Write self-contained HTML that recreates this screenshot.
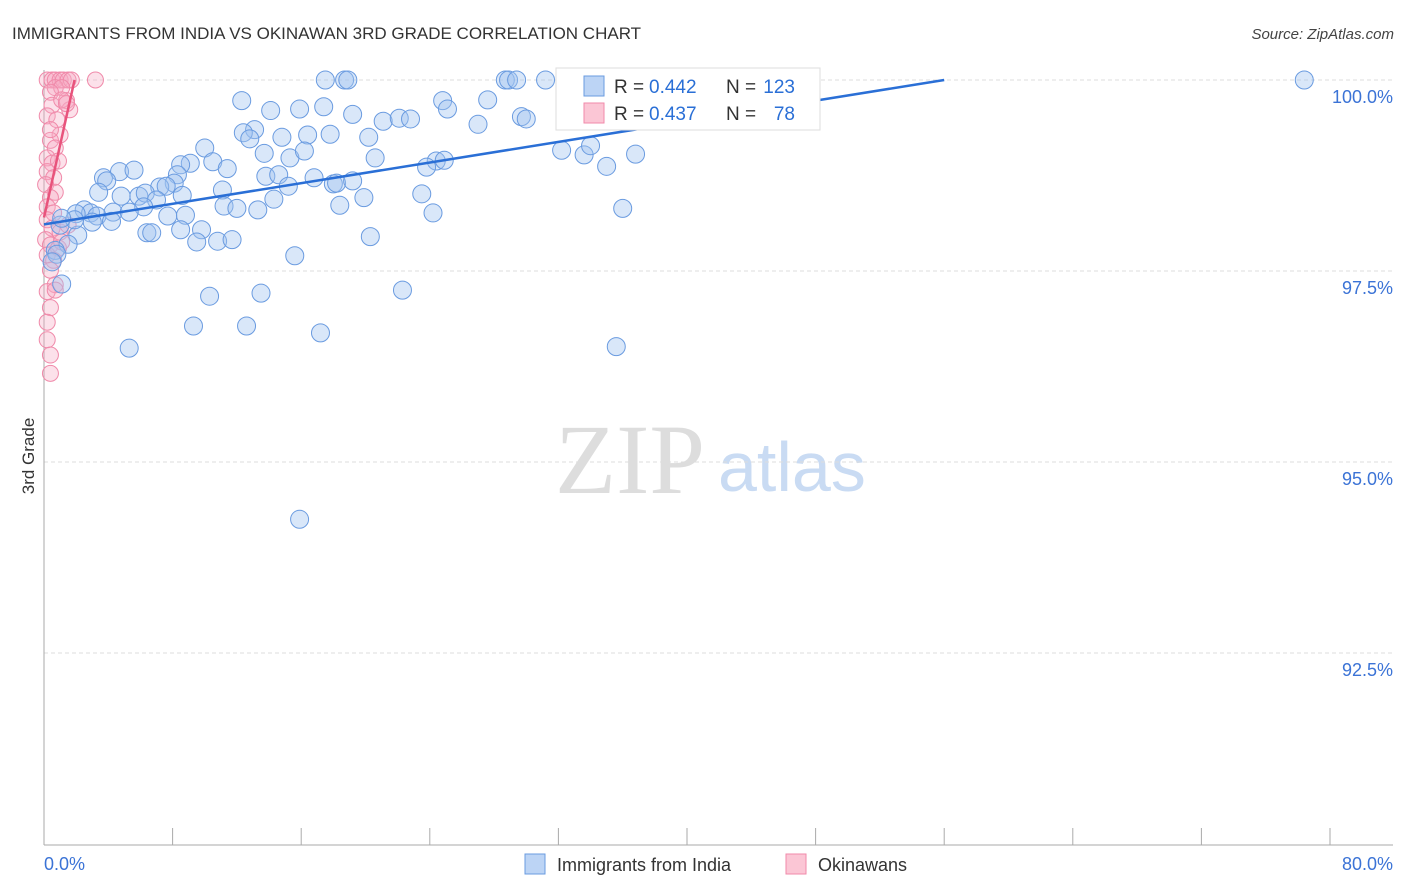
<!DOCTYPE html>
<html><head><meta charset="utf-8"><style>
body{margin:0;background:#fff;font-family:"Liberation Sans",sans-serif}
#c{position:relative;width:1406px;height:892px;overflow:hidden}
</style></head><body>
<div id="c">
<svg id="s" width="1406" height="892">
<text x="12" y="39" font-size="17" fill="#333">IMMIGRANTS FROM INDIA VS OKINAWAN 3RD GRADE CORRELATION CHART</text>
<text x="1394" y="39" font-size="15" fill="#444" font-style="italic" text-anchor="end">Source: ZipAtlas.com</text>
<text transform="translate(34,456) rotate(-90)" font-size="17" fill="#333" text-anchor="middle">3rd Grade</text>
<text x="555" y="493" font-size="100" fill="#ddd" font-family="Liberation Serif,serif">ZIP</text>
<text x="718" y="491" font-size="70" fill="#c9dbf3">atlas</text>
<g id="grid"></g><g id="axes"></g><g id="pts"></g><g id="trend"></g>
<g>
<rect x="556" y="68" width="264" height="62" fill="#fff" stroke="#ddd"/>
<rect x="584" y="76" width="20" height="20" fill="#bcd4f5" stroke="#6a9be0"/>
<rect x="584" y="103" width="20" height="20" fill="#fbc6d5" stroke="#f08aaa"/>
<text x="614" y="93" font-size="19" fill="#333">R =</text>
<text x="649" y="93" font-size="19" fill="#2a6fd6">0.442</text>
<text x="726" y="93" font-size="19" fill="#333">N =</text>
<text x="795" y="93" font-size="19" fill="#2a6fd6" text-anchor="end">123</text>
<text x="614" y="120" font-size="19" fill="#333">R =</text>
<text x="649" y="120" font-size="19" fill="#2a6fd6">0.437</text>
<text x="726" y="120" font-size="19" fill="#333">N =</text>
<text x="795" y="120" font-size="19" fill="#2a6fd6" text-anchor="end">78</text>
</g>
<g>
<rect x="525" y="854" width="20" height="20" fill="#bcd4f5" stroke="#6a9be0"/>
<text x="557" y="871" font-size="18" fill="#333">Immigrants from India</text>
<rect x="786" y="854" width="20" height="20" fill="#fbc6d5" stroke="#f08aaa"/>
<text x="818" y="871" font-size="18" fill="#333">Okinawans</text>
</g>
</svg></div>
<script>
const yTicks=[100,97.5,95,92.5];
const yTickLabels=["100.0%","97.5%","95.0%","92.5%"];
const xEnds=["0.0%","80.0%"];
const blueX=[17.5,18.7,18.9,28.7,28.9,29.4,31.2,78.4,12.3,14.1,15.9,17.4,19.2,21.1,22.1,22.8,24.8,25.1,27.6,29.7,30.0,27.0,13.1,12.4,12.8,14.8,16.4,17.8,20.2,10.0,13.7,15.3,16.2,20.6,24.4,24.9,23.8,32.2,33.6,34.0,36.8,35.0,9.1,10.5,8.5,11.4,4.7,5.6,3.7,3.9,8.3,8.1,7.2,7.6,13.8,14.6,16.8,15.2,18.0,18.2,19.2,11.1,3.4,4.8,5.9,6.3,8.6,7.0,6.2,11.2,12.0,13.3,14.3,18.4,19.9,23.5,24.2,36.0,2.5,2.9,3.3,2.0,4.3,5.3,4.2,3.0,7.7,8.8,2.1,6.4,6.7,9.8,9.5,10.8,11.7,20.3,1.5,0.7,0.8,15.6,10.3,13.5,22.3,9.3,12.6,17.2,5.3,35.6,15.9,1.1,0.5,1.0,1.9,1.1,36.5,8.5];
const blueY=[100,100,100,100,100,100,100,100,99.73,99.6,99.62,99.65,99.55,99.46,99.5,99.49,99.73,99.62,99.74,99.52,99.49,99.42,99.35,99.31,99.23,99.25,99.28,99.29,99.25,99.11,99.04,98.98,99.07,98.98,98.94,98.95,98.86,99.08,99.02,99.14,99.03,98.87,98.91,98.93,98.89,98.84,98.8,98.82,98.72,98.68,98.76,98.65,98.6,98.61,98.74,98.76,98.72,98.61,98.64,98.65,98.68,98.56,98.53,98.48,98.48,98.52,98.49,98.43,98.34,98.35,98.32,98.3,98.44,98.36,98.46,98.51,98.26,98.32,98.3,98.26,98.22,98.25,98.27,98.27,98.15,98.14,98.22,98.23,97.97,98.0,98.0,98.04,97.88,97.89,97.91,97.95,97.85,97.77,97.72,97.7,97.17,97.21,97.25,96.78,96.78,96.69,96.49,96.51,94.25,97.33,97.62,98.1,98.17,98.19,99.78,98.04];
const pinkX=[.2,.5,.7,1.0,1.2,1.5,1.7,.7,1.1,.4,1.4,1.6,.5,.2,.8,1.0,.4,.7,.2,.5,.9,.2,.6,.1,.7,.4,.2,.6,.2,.5,1.0,.1,.4,.9,.2,.6,.4,.7,.2,.4,.2,.2,.4,.4,3.2,1.1,1.4,.4,1.1,.7,1.5];
const pinkY=[100,100,100,100,100,100,100,99.9,99.9,99.84,99.73,99.61,99.67,99.53,99.48,99.28,99.21,99.11,98.98,98.91,98.94,98.8,98.72,98.63,98.53,98.46,98.34,98.26,98.17,98.06,98.01,97.91,97.84,97.8,97.71,97.64,97.51,97.32,97.23,97.02,96.83,96.6,96.4,96.16,100,99.74,99.69,99.35,97.88,97.25,98.1];
const blueTrend=[[0,98.11],[56,100]];
const pinkTrend=[[0,98.2],[1.9,100]];
const X=v=>44+v*16.075, Y=v=>80+(100-v)*76.4;
const NS="http://www.w3.org/2000/svg";
function mk(t,a,p){const e=document.createElementNS(NS,t);for(const k in a)e.setAttribute(k,a[k]);p.appendChild(e);return e;}
const grid=document.getElementById('grid'),axes=document.getElementById('axes'),pts=document.getElementById('pts'),tr=document.getElementById('trend');
yTicks.forEach((t,i)=>{
 const l=mk('line',{x1:44,x2:1393,y1:Y(t),y2:Y(t),stroke:'#ddd','stroke-dasharray':'4,3'},grid);
 
 
 const tx=mk('text',{x:1393,y:Y(t)+23,'font-size':18,fill:'#3b73d6','text-anchor':'end'},grid);
 tx.textContent=yTickLabels[i];
 
 
});
const ax=mk('line',{x1:44,x2:44,y1:70,y2:845,stroke:'#aaa'},axes);


const bx=mk('line',{x1:44,x2:1393,y1:845,y2:845,stroke:'#aaa'},axes);


for(let i=0;i<=10;i++){const t=mk('line',{x1:X(i*8),x2:X(i*8),y1:828,y2:845,stroke:'#aaa'},axes);
 
 }
const x0=mk('text',{x:44,y:870,'font-size':18,fill:'#3b73d6'},axes);x0.textContent=xEnds[0];


const x1=mk('text',{x:1393,y:870,'font-size':18,fill:'#3b73d6','text-anchor':'end'},axes);x1.textContent=xEnds[1];


pinkX.forEach((v,i)=>{const c=mk('circle',{cx:X(v),cy:Y(pinkY[i]),r:8,fill:'rgba(246,168,194,0.35)',stroke:'#f08aaa','stroke-width':1},pts);
 
 });
blueX.forEach((v,i)=>{const c=mk('circle',{cx:X(v),cy:Y(blueY[i]),r:9,fill:'rgba(160,196,240,0.4)',stroke:'#6a9be0','stroke-width':1},pts);
 
 });
const bl=mk('line',{x1:X(blueTrend[0][0]),y1:Y(blueTrend[0][1]),x2:X(blueTrend[1][0]),y2:Y(blueTrend[1][1]),stroke:'#2a6fd6','stroke-width':2.5},tr);


const pl=mk('line',{x1:X(pinkTrend[0][0]),y1:Y(pinkTrend[0][1]),x2:X(pinkTrend[1][0]),y2:Y(pinkTrend[1][1]),stroke:'#e8537c','stroke-width':2.5},tr);


</script>
</body></html>
